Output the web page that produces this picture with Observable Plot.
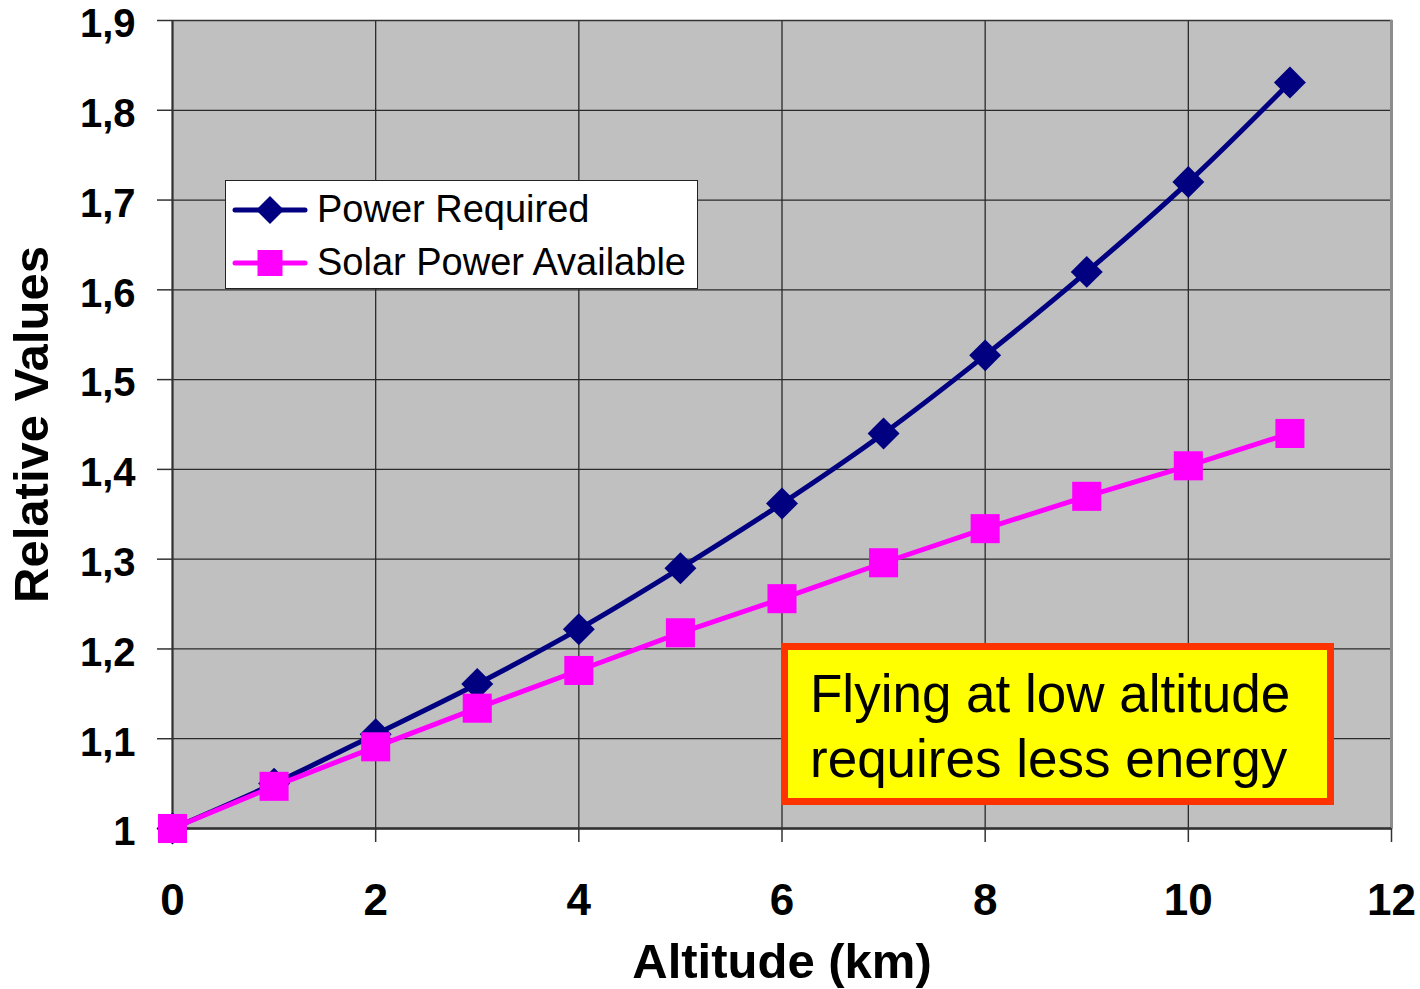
<!DOCTYPE html>
<html>
<head>
<meta charset="utf-8">
<script src="https://cdn.jsdelivr.net/npm/d3@7"></script>
<script src="https://cdn.jsdelivr.net/npm/@observablehq/plot@0.6"></script>
<style>
  html, body { margin: 0; padding: 0; background: white; }
  #wrap { position: relative; width: 1420px; height: 989px; font-family: "Liberation Sans", Arial, sans-serif; }
  #legend {
    position: absolute; left: 225px; top: 180px; width: 473px; height: 109px;
    box-sizing: border-box; border: 1.5px solid #222; background: white;
    padding-top: 2px;
  }
  .row { display: flex; align-items: center; height: 53px; font-size: 38px; color: #000; }
  .row svg { margin-left: 6px; margin-right: 9px; flex: none; }
  #note {
    position: absolute; left: 781px; top: 643px; width: 553px; height: 162px;
    box-sizing: border-box; border: 7px solid #ff3300; background: #ffff00;
    padding-left: 22px; padding-top: 11px; font-size: 53px; line-height: 65px; color: #000;
    white-space: nowrap;
  }
</style>
</head>
<body>
<div id="wrap">
  <div id="chart"></div>
  <div id="legend"></div>
  <div id="note"></div>
</div>
<script>
// ---- data ----
const altitude = [0, 1, 2, 3, 4, 5, 6, 7, 8, 9, 10, 11];
const powerRequired = [1.0, 1.05, 1.105, 1.161, 1.222, 1.29, 1.362, 1.44, 1.527, 1.62, 1.72, 1.831];
const solarAvailable = [1.0, 1.047, 1.091, 1.134, 1.176, 1.218, 1.256, 1.296, 1.334, 1.37, 1.404, 1.44];
const xTicks = [0, 2, 4, 6, 8, 10, 12];
const yTicks = [1, 1.1, 1.2, 1.3, 1.4, 1.5, 1.6, 1.7, 1.8, 1.9];
const seriesNames = ["Power Required", "Solar Power Available"];
const seriesColors = ["#000080", "#ff00ff"];
const xLabel = "Altitude (km)";
const yLabel = "Relative Values";
const noteLines = ["Flying at low altitude", "requires less energy"];

const powerRows = altitude.map((a, i) => ({altitude: a, value: powerRequired[i]}));
const solarRows = altitude.map((a, i) => ({altitude: a, value: solarAvailable[i]}));
const fmtY = d => d === 1 ? "1" : d.toFixed(1).replace(".", ",");
const bold = "bold";

const chart = Plot.plot({
  width: 1420,
  height: 989,
  marginLeft: 172,
  marginRight: 29,
  marginTop: 20,
  marginBottom: 161,
  style: {fontFamily: "'Liberation Sans', Arial, sans-serif", background: "white", color: "#000", overflow: "visible"},
  x: {domain: [0, 12]},
  y: {domain: [1, 1.9]},
  marks: [
    Plot.frame({fill: "#c0c0c0", stroke: null}),
    Plot.gridX(xTicks.slice(1, -1), {stroke: "#2a2a2a", strokeOpacity: 1, strokeWidth: 1.3}),
    Plot.gridY(yTicks.slice(1, -1), {stroke: "#2a2a2a", strokeOpacity: 1, strokeWidth: 1.3}),
    Plot.frame({stroke: "#333", strokeWidth: 1.5}),
    Plot.ruleX([12], {stroke: "#8c8c8c", strokeWidth: 3}),
    Plot.ruleX([0], {stroke: "#333", strokeWidth: 2}),
    Plot.ruleY([1], {stroke: "#333", strokeWidth: 2.5}),
    Plot.axisX(xTicks, {tickSize: 14, tickPadding: 41, fontSize: 44, fontWeight: bold, label: null, stroke: "#333", strokeWidth: 1.5, tickFormat: d => String(d)}),
    Plot.axisY(yTicks, {tickSize: 15, label: null, stroke: "#333", strokeWidth: 1.5, tickFormat: () => ""}),
    Plot.axisY(yTicks, {tickSize: 0, tickPadding: 37, dy: 4, fontSize: 40, fontWeight: bold, label: null, tickFormat: fmtY}),
    Plot.text([xLabel], {text: d => d, frameAnchor: "bottom", textAnchor: "middle", lineAnchor: "middle", dy: 134, fontSize: 49, fontWeight: bold, fill: "#000"}),
    Plot.text([yLabel], {text: d => d, frameAnchor: "left", textAnchor: "middle", lineAnchor: "middle", dx: -140, rotate: -90, fontSize: 49, fontWeight: bold, fill: "#000"}),
    Plot.line(powerRows, {x: "altitude", y: "value", stroke: seriesColors[0], strokeWidth: 5, curve: "catmull-rom"}),
    Plot.dot(powerRows, {x: "altitude", y: "value", symbol: "diamond2", r: 14.4, fill: seriesColors[0], stroke: null}),
    Plot.line(solarRows, {x: "altitude", y: "value", stroke: seriesColors[1], strokeWidth: 5}),
    Plot.dot(solarRows, {x: "altitude", y: "value", symbol: "square", r: 16.4, fill: seriesColors[1], stroke: null})
  ]
});
chart.querySelectorAll("text").forEach(t => { if (!t.getAttribute("font-weight")) t.setAttribute("font-weight", "bold"); });
document.getElementById("chart").appendChild(chart);

// legend
const legend = document.getElementById("legend");
const markers = [
  `<polygon points="38,1 52,15 38,29 24,15" fill="${seriesColors[0]}"/>`,
  `<rect x="25.5" y="2" width="25" height="26" fill="${seriesColors[1]}"/>`
];
seriesNames.forEach((name, i) => {
  const row = document.createElement("div");
  row.className = "row";
  row.innerHTML = `<svg width="76" height="30"><line x1="3" y1="15" x2="73" y2="15" stroke="${seriesColors[i]}" stroke-width="5" stroke-linecap="round"/>${markers[i]}</svg><span>${name}</span>`;
  legend.appendChild(row);
});
document.getElementById("note").innerHTML = noteLines.join("<br>");
</script>
</body>
</html>
